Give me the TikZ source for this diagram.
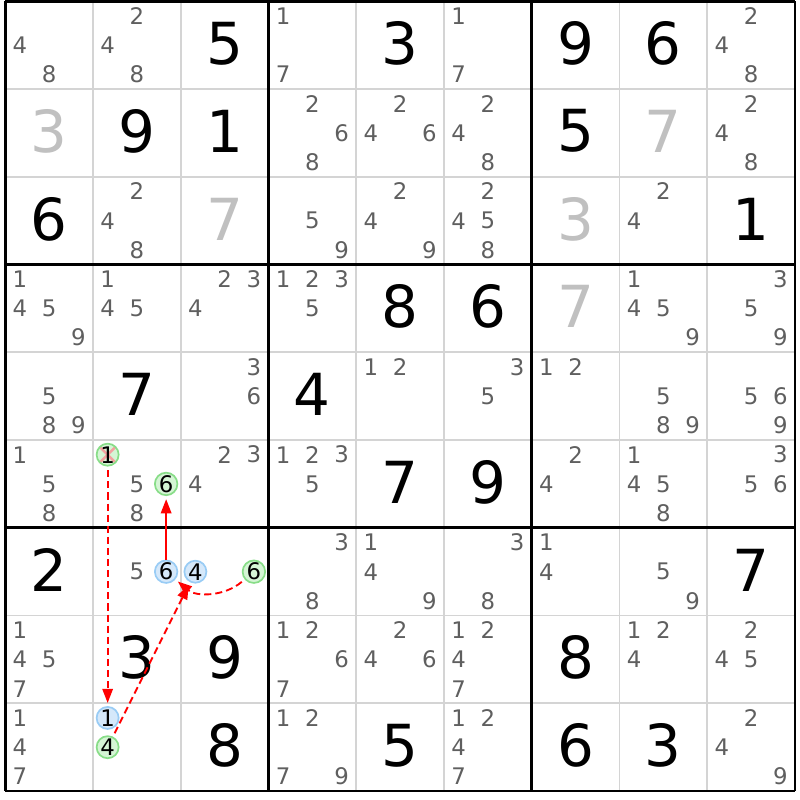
\documentclass[tikz,border=0pt]{standalone}
\usepackage{fontspec}
\setmainfont{DejaVu Sans}
\usetikzlibrary{arrows.meta}
\definecolor{candgray}{HTML}{5F5F5F}
\definecolor{solvedgray}{HTML}{C0C0C0}
\definecolor{gridgray}{HTML}{D4D4D4}
\definecolor{onfill}{HTML}{D5F5D5}
\definecolor{ondraw}{HTML}{88DD88}
\definecolor{offfill}{HTML}{D5E8FA}
\definecolor{offdraw}{HTML}{99CCF5}
\definecolor{crossred}{HTML}{F4A0A0}

\begin{document}
\begin{tikzpicture}[x=1cm, y=1cm,
	given/.style = {font=\fontsize{18.8pt}{20pt}\selectfont, text=black, inner sep=0pt},
	solved/.style = {given, text=solvedgray},
	cand/.style = {font=\fontsize{7.4pt}{8pt}\selectfont, text=candgray, inner sep=0pt},
	lit/.style = {cand, text=black, circle, minimum size=0.25cm, line width=0.55pt},
	on/.style = {lit, draw=ondraw, fill=onfill},
	off/.style = {lit, draw=offdraw, fill=offfill},
	elim/.style = {path picture={\draw[crossred, line width=0.8pt]
		(path picture bounding box.north west) -- (path picture bounding box.south east)
		(path picture bounding box.north east) -- (path picture bounding box.south west);}},
	link/.style = {red, line width=0.6pt, -{Triangle[length=4.6pt, width=3.4pt]}, shorten >=1pt},
	weak/.style = {link, dash pattern=on 2.3pt off 1.3pt, shorten <=1.2pt}]
	\useasboundingbox (-0.060,0.015) rectangle (9.057,-9.097);
	% grid
	\foreach \i in {1,2,4,5,7,8} {
		\draw[gridgray, line width=0.6pt] (\i,0) -- (\i,-9);
		\draw[gridgray, line width=0.6pt] (0,-\i) -- (9,-\i);
	}
	\foreach \i in {0,3,6,9} {
		\draw[black, line width=0.9pt] (\i,0) -- (\i,-9);
		\draw[black, line width=0.9pt] (0,-\i) -- (9,-\i);
	}
	% givens and solved cells
	\foreach \r/\c/\v in {0/2/5, 0/4/3, 0/6/9, 0/7/6, 1/1/9, 1/2/1, 1/6/5, 2/0/6, 2/8/1,
		3/4/8, 3/5/6, 4/1/7, 4/3/4, 5/4/7, 5/5/9, 6/0/2, 6/8/7, 7/1/3, 7/2/9, 7/6/8,
		8/2/8, 8/4/5, 8/6/6, 8/7/3}
		\node[given] (g\r\c) at (\c+0.5,-\r-0.48) {\v};
	\foreach \r/\c/\v in {1/0/3, 1/7/7, 2/2/7, 2/6/3, 3/6/7}
		\node[solved] (s\r\c) at (\c+0.5,-\r-0.48) {\v};
	% candidates
	\foreach \r/\c/\ds in {0/0/{4,8}, 0/1/{2,4,8}, 0/3/{1,7}, 0/5/{1,7}, 0/8/{2,4,8},
		1/3/{2,6,8}, 1/4/{2,4,6}, 1/5/{2,4,8}, 1/8/{2,4,8},
		2/1/{2,4,8}, 2/3/{5,9}, 2/4/{2,4,9}, 2/5/{2,4,5,8}, 2/7/{2,4},
		3/0/{1,4,5,9}, 3/1/{1,4,5}, 3/2/{2,3,4}, 3/3/{1,2,3,5}, 3/7/{1,4,5,9}, 3/8/{3,5,9},
		4/0/{5,8,9}, 4/2/{3,6}, 4/4/{1,2}, 4/5/{3,5}, 4/6/{1,2}, 4/7/{5,8,9}, 4/8/{5,6,9},
		5/0/{1,5,8}, 5/1/{5,8}, 5/2/{2,3,4}, 5/3/{1,2,3,5}, 5/6/{2,4}, 5/7/{1,4,5,8}, 5/8/{3,5,6},
		6/1/{5}, 6/3/{3,8}, 6/4/{1,4,9}, 6/5/{3,8}, 6/6/{1,4}, 6/7/{5,9},
		7/0/{1,4,5,7}, 7/3/{1,2,6,7}, 7/4/{2,4,6}, 7/5/{1,2,4,7}, 7/7/{1,2,4}, 7/8/{2,4,5},
		8/0/{1,4,7}, 8/3/{1,2,7,9}, 8/5/{1,2,4,7}, 8/8/{2,4,9}}
		\foreach \d in \ds
			\node[cand] (n\r\c\d) at ({\c+(2*mod(\d-1,3)+1)/6},{-\r-(2*floor((\d-1)/3)+1)/6}) {\d};
	% chain candidates
	\node[on, elim] (r5c1d1) at (1+1/6,-5-1/6) {1};
	\node[on] (r5c1d6) at (1+5/6,-5.5) {6};
	\node[off] (r6c1d6) at (1+5/6,-6.5) {6};
	\node[off] (r6c2d4) at (2+1/6,-6.5) {4};
	\node[on] (r6c2d6) at (2+5/6,-6.5) {6};
	\node[off] (r8c1d1) at (1+1/6,-8-1/6) {1};
	\node[on] (r8c1d4) at (1+1/6,-8.5) {4};
	% links
	\draw[weak] (r5c1d1) -- (r8c1d1);
	\draw[weak] (r8c1d4) -- (r6c2d4);
	\draw[weak] (r6c2d6) to[out=-140, in=-40] (r6c1d6);
	\draw[link] (r6c1d6) -- (r5c1d6);
\end{tikzpicture}
\end{document}
